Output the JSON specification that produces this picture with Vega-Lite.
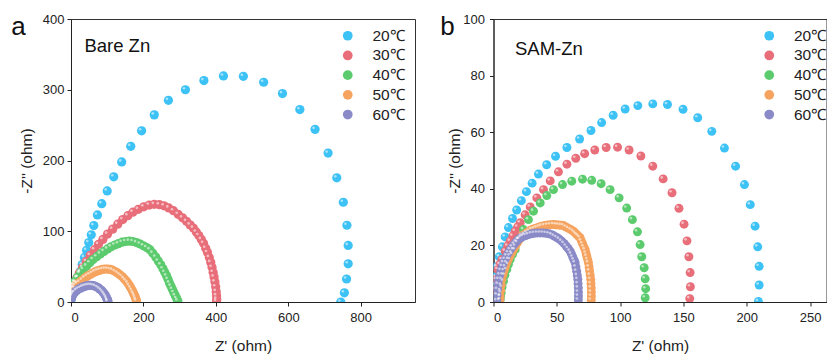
{
"$schema": "https://vega.github.io/schema/vega-lite/v6.json",
"padding": {"left": 10, "top": 12, "right": 0, "bottom": 0},
"config": {
 "font": "Liberation Sans",
 "view": {"stroke": "#333", "strokeWidth": 1},
 "axis": {"grid": false, "domainColor": "#222", "tickColor": "#222", "labelColor": "#222", "titleColor": "#222", "labelFontSize": 13, "titleFontSize": 15.5, "titleFontWeight": "normal", "tickSize": 4, "labelFont": "Liberation Sans", "titleFont": "Liberation Sans"},
 "legend": {"labelFontSize": 15.5, "symbolSize": 95, "symbolType": "circle", "rowPadding": 2.7, "labelOffset": 17, "padding": 0, "labelColor": "#222", "symbolStrokeWidth": 0, "labelFont": "Liberation Sans", "title": null},
 "title": {"fontSize": 26, "font": "Liberation Sans", "fontWeight": "normal", "anchor": "start", "frame": "bounds", "color": "#111", "baseline": "alphabetic", "offset": 0}
},
"data": {"values": [
{"p":"a","t":"20℃","x":1,"y":4},{"p":"a","t":"20℃","x":3,"y":9},{"p":"a","t":"20℃","x":6,"y":13},{"p":"a","t":"20℃","x":10,"y":20},{"p":"a","t":"20℃","x":15,"y":27},{"p":"a","t":"20℃","x":20,"y":35},{"p":"a","t":"20℃","x":26,"y":43},{"p":"a","t":"20℃","x":31,"y":53},{"p":"a","t":"20℃","x":37,"y":63},{"p":"a","t":"20℃","x":43,"y":73},{"p":"a","t":"20℃","x":49,"y":84},{"p":"a","t":"20℃","x":56,"y":95},{"p":"a","t":"20℃","x":63,"y":108},{"p":"a","t":"20℃","x":73,"y":123},{"p":"a","t":"20℃","x":85,"y":139},{"p":"a","t":"20℃","x":100,"y":157},{"p":"a","t":"20℃","x":118,"y":177},{"p":"a","t":"20℃","x":140,"y":198},{"p":"a","t":"20℃","x":165,"y":220},{"p":"a","t":"20℃","x":195,"y":242},{"p":"a","t":"20℃","x":230,"y":264.5},{"p":"a","t":"20℃","x":269,"y":285},{"p":"a","t":"20℃","x":316,"y":300},{"p":"a","t":"20℃","x":367,"y":313},{"p":"a","t":"20℃","x":421,"y":319.5},{"p":"a","t":"20℃","x":476,"y":319},{"p":"a","t":"20℃","x":532,"y":310.6},{"p":"a","t":"20℃","x":584,"y":294.6},{"p":"a","t":"20℃","x":632,"y":272},{"p":"a","t":"20℃","x":674,"y":244},{"p":"a","t":"20℃","x":710,"y":210.5},{"p":"a","t":"20℃","x":734,"y":175.5},{"p":"a","t":"20℃","x":752,"y":141},{"p":"a","t":"20℃","x":762,"y":108.5},{"p":"a","t":"20℃","x":765.5,"y":80},{"p":"a","t":"20℃","x":765.5,"y":54},{"p":"a","t":"20℃","x":761,"y":32.5},{"p":"a","t":"20℃","x":755,"y":13},{"p":"a","t":"20℃","x":745,"y":0},
{"p":"a","t":"30℃","x":1,"y":16},{"p":"a","t":"30℃","x":3,"y":20},{"p":"a","t":"30℃","x":6,"y":24},{"p":"a","t":"30℃","x":10,"y":27.5},{"p":"a","t":"30℃","x":16,"y":34},{"p":"a","t":"30℃","x":23,"y":41},{"p":"a","t":"30℃","x":32,"y":49},{"p":"a","t":"30℃","x":42,"y":57.5},{"p":"a","t":"30℃","x":53,"y":66},{"p":"a","t":"30℃","x":65,"y":74},{"p":"a","t":"30℃","x":76,"y":81.5},{"p":"a","t":"30℃","x":88,"y":88.5},{"p":"a","t":"30℃","x":101,"y":96},{"p":"a","t":"30℃","x":115,"y":103},{"p":"a","t":"30℃","x":129,"y":110},{"p":"a","t":"30℃","x":143,"y":116.5},{"p":"a","t":"30℃","x":157,"y":122},{"p":"a","t":"30℃","x":171,"y":127},{"p":"a","t":"30℃","x":186,"y":131},{"p":"a","t":"30℃","x":201,"y":134.5},{"p":"a","t":"30℃","x":216,"y":137},{"p":"a","t":"30℃","x":230,"y":138},{"p":"a","t":"30℃","x":244,"y":137.5},{"p":"a","t":"30℃","x":257,"y":136},{"p":"a","t":"30℃","x":270,"y":133},{"p":"a","t":"30℃","x":283,"y":129},{"p":"a","t":"30℃","x":296,"y":124},{"p":"a","t":"30℃","x":308,"y":119},{"p":"a","t":"30℃","x":319,"y":114},{"p":"a","t":"30℃","x":329,"y":109},{"p":"a","t":"30℃","x":338,"y":104.5},{"p":"a","t":"30℃","x":346,"y":99},{"p":"a","t":"30℃","x":353,"y":94},{"p":"a","t":"30℃","x":360,"y":88.5},{"p":"a","t":"30℃","x":366,"y":83},{"p":"a","t":"30℃","x":372,"y":76},{"p":"a","t":"30℃","x":377,"y":70},{"p":"a","t":"30℃","x":382,"y":63},{"p":"a","t":"30℃","x":386,"y":56},{"p":"a","t":"30℃","x":389.5,"y":49},{"p":"a","t":"30℃","x":392.5,"y":42},{"p":"a","t":"30℃","x":395,"y":35.5},{"p":"a","t":"30℃","x":397.5,"y":28.5},{"p":"a","t":"30℃","x":399.5,"y":21.5},{"p":"a","t":"30℃","x":401,"y":15},{"p":"a","t":"30℃","x":402,"y":9},{"p":"a","t":"30℃","x":402.5,"y":4},{"p":"a","t":"30℃","x":402,"y":0.8},
{"p":"a","t":"40℃","x":1,"y":14},{"p":"a","t":"40℃","x":3,"y":19},{"p":"a","t":"40℃","x":6,"y":24},{"p":"a","t":"40℃","x":11,"y":29},{"p":"a","t":"40℃","x":18,"y":35},{"p":"a","t":"40℃","x":26,"y":41},{"p":"a","t":"40℃","x":34,"y":46},{"p":"a","t":"40℃","x":43,"y":51},{"p":"a","t":"40℃","x":52,"y":55.5},{"p":"a","t":"40℃","x":61,"y":60},{"p":"a","t":"40℃","x":71,"y":64},{"p":"a","t":"40℃","x":81,"y":68},{"p":"a","t":"40℃","x":91,"y":71.5},{"p":"a","t":"40℃","x":101,"y":75},{"p":"a","t":"40℃","x":111,"y":78},{"p":"a","t":"40℃","x":121,"y":80.5},{"p":"a","t":"40℃","x":131,"y":82.5},{"p":"a","t":"40℃","x":141,"y":84.5},{"p":"a","t":"40℃","x":151,"y":85.5},{"p":"a","t":"40℃","x":161,"y":86},{"p":"a","t":"40℃","x":171,"y":85.5},{"p":"a","t":"40℃","x":181,"y":84},{"p":"a","t":"40℃","x":191,"y":82},{"p":"a","t":"40℃","x":200,"y":79.5},{"p":"a","t":"40℃","x":209,"y":77},{"p":"a","t":"40℃","x":218,"y":74},{"p":"a","t":"40℃","x":226,"y":69},{"p":"a","t":"40℃","x":234,"y":63.5},{"p":"a","t":"40℃","x":241,"y":58},{"p":"a","t":"40℃","x":248,"y":52.5},{"p":"a","t":"40℃","x":254,"y":47},{"p":"a","t":"40℃","x":259,"y":42},{"p":"a","t":"40℃","x":264,"y":37},{"p":"a","t":"40℃","x":268,"y":32},{"p":"a","t":"40℃","x":272,"y":27},{"p":"a","t":"40℃","x":276,"y":22.5},{"p":"a","t":"40℃","x":280,"y":18},{"p":"a","t":"40℃","x":284,"y":13.5},{"p":"a","t":"40℃","x":288,"y":9},{"p":"a","t":"40℃","x":292,"y":5},{"p":"a","t":"40℃","x":295,"y":1.5},
{"p":"a","t":"50℃","x":1,"y":12},{"p":"a","t":"50℃","x":3,"y":16},{"p":"a","t":"50℃","x":6,"y":20},{"p":"a","t":"50℃","x":12,"y":23.5},{"p":"a","t":"50℃","x":18,"y":26},{"p":"a","t":"50℃","x":24,"y":28},{"p":"a","t":"50℃","x":31,"y":31},{"p":"a","t":"50℃","x":38,"y":34},{"p":"a","t":"50℃","x":45,"y":36.5},{"p":"a","t":"50℃","x":52,"y":38.5},{"p":"a","t":"50℃","x":59,"y":40.5},{"p":"a","t":"50℃","x":66,"y":42.5},{"p":"a","t":"50℃","x":73,"y":44},{"p":"a","t":"50℃","x":80,"y":45},{"p":"a","t":"50℃","x":87,"y":46},{"p":"a","t":"50℃","x":94,"y":46.5},{"p":"a","t":"50℃","x":101,"y":46.5},{"p":"a","t":"50℃","x":108,"y":46},{"p":"a","t":"50℃","x":115,"y":45},{"p":"a","t":"50℃","x":122,"y":43},{"p":"a","t":"50℃","x":129,"y":41},{"p":"a","t":"50℃","x":135,"y":38.5},{"p":"a","t":"50℃","x":141,"y":36},{"p":"a","t":"50℃","x":147,"y":33},{"p":"a","t":"50℃","x":152,"y":30},{"p":"a","t":"50℃","x":157,"y":27},{"p":"a","t":"50℃","x":161,"y":23.5},{"p":"a","t":"50℃","x":165,"y":20},{"p":"a","t":"50℃","x":169,"y":16.5},{"p":"a","t":"50℃","x":172,"y":13},{"p":"a","t":"50℃","x":175,"y":10},{"p":"a","t":"50℃","x":177.5,"y":7},{"p":"a","t":"50℃","x":179.5,"y":4},{"p":"a","t":"50℃","x":181,"y":1.5},
{"p":"a","t":"60℃","x":1,"y":5},{"p":"a","t":"60℃","x":3,"y":8},{"p":"a","t":"60℃","x":6,"y":11},{"p":"a","t":"60℃","x":10,"y":13.5},{"p":"a","t":"60℃","x":15,"y":16},{"p":"a","t":"60℃","x":20,"y":18},{"p":"a","t":"60℃","x":26,"y":19.5},{"p":"a","t":"60℃","x":32,"y":21},{"p":"a","t":"60℃","x":38,"y":22},{"p":"a","t":"60℃","x":44,"y":23},{"p":"a","t":"60℃","x":50,"y":23.5},{"p":"a","t":"60℃","x":56,"y":23.5},{"p":"a","t":"60℃","x":62,"y":23},{"p":"a","t":"60℃","x":68,"y":22},{"p":"a","t":"60℃","x":74,"y":20.5},{"p":"a","t":"60℃","x":79,"y":18.5},{"p":"a","t":"60℃","x":84,"y":16.5},{"p":"a","t":"60℃","x":88,"y":14},{"p":"a","t":"60℃","x":92,"y":11.5},{"p":"a","t":"60℃","x":95,"y":9},{"p":"a","t":"60℃","x":98,"y":6.5},{"p":"a","t":"60℃","x":100,"y":4},{"p":"a","t":"60℃","x":101.5,"y":2},{"p":"a","t":"60℃","x":102,"y":0.5},
{"p":"b","t":"20℃","x":0.8,"y":6},{"p":"b","t":"20℃","x":1.3,"y":9},{"p":"b","t":"20℃","x":2.6,"y":12.5},{"p":"b","t":"20℃","x":4.6,"y":16},{"p":"b","t":"20℃","x":7,"y":19.5},{"p":"b","t":"20℃","x":9.2,"y":23},{"p":"b","t":"20℃","x":11.8,"y":26.3},{"p":"b","t":"20℃","x":15,"y":29.5},{"p":"b","t":"20℃","x":18.3,"y":32.5},{"p":"b","t":"20℃","x":22,"y":35.8},{"p":"b","t":"20℃","x":26,"y":39},{"p":"b","t":"20℃","x":30.5,"y":42},{"p":"b","t":"20℃","x":35.5,"y":45.2},{"p":"b","t":"20℃","x":42,"y":48.5},{"p":"b","t":"20℃","x":49,"y":51.5},{"p":"b","t":"20℃","x":58,"y":54.6},{"p":"b","t":"20℃","x":68,"y":57.6},{"p":"b","t":"20℃","x":77,"y":60.6},{"p":"b","t":"20℃","x":85.4,"y":63.4},{"p":"b","t":"20℃","x":94.5,"y":66},{"p":"b","t":"20℃","x":104,"y":68.2},{"p":"b","t":"20℃","x":114,"y":69.4},{"p":"b","t":"20℃","x":125.8,"y":70},{"p":"b","t":"20℃","x":137.4,"y":69.8},{"p":"b","t":"20℃","x":149.7,"y":68.1},{"p":"b","t":"20℃","x":161.3,"y":65.1},{"p":"b","t":"20℃","x":172.4,"y":60.3},{"p":"b","t":"20℃","x":182.4,"y":54.4},{"p":"b","t":"20℃","x":191.2,"y":48},{"p":"b","t":"20℃","x":198.2,"y":41.5},{"p":"b","t":"20℃","x":202.8,"y":34.4},{"p":"b","t":"20℃","x":206.6,"y":26.8},{"p":"b","t":"20℃","x":208.7,"y":19.5},{"p":"b","t":"20℃","x":209.8,"y":12.6},{"p":"b","t":"20℃","x":209.8,"y":6},{"p":"b","t":"20℃","x":209.2,"y":0.2},
{"p":"b","t":"30℃","x":0.8,"y":4.4},{"p":"b","t":"30℃","x":1.8,"y":8},{"p":"b","t":"30℃","x":3.4,"y":11.5},{"p":"b","t":"30℃","x":5,"y":13.3},{"p":"b","t":"30℃","x":6.6,"y":15},{"p":"b","t":"30℃","x":9.2,"y":18},{"p":"b","t":"30℃","x":11.2,"y":19.8},{"p":"b","t":"30℃","x":13.2,"y":21.5},{"p":"b","t":"30℃","x":15.2,"y":23.3},{"p":"b","t":"30℃","x":17.1,"y":25},{"p":"b","t":"30℃","x":19.1,"y":26.5},{"p":"b","t":"30℃","x":21.1,"y":28},{"p":"b","t":"30℃","x":25,"y":30.8},{"p":"b","t":"30℃","x":29,"y":33.6},{"p":"b","t":"30℃","x":34.2,"y":36.8},{"p":"b","t":"30℃","x":39.5,"y":39.7},{"p":"b","t":"30℃","x":44.8,"y":42.8},{"p":"b","t":"30℃","x":51.3,"y":46},{"p":"b","t":"30℃","x":58,"y":48.7},{"p":"b","t":"30℃","x":65,"y":50.8},{"p":"b","t":"30℃","x":72,"y":52.4},{"p":"b","t":"30℃","x":80,"y":53.7},{"p":"b","t":"30℃","x":89,"y":54.6},{"p":"b","t":"30℃","x":98,"y":54.7},{"p":"b","t":"30℃","x":107.1,"y":53.7},{"p":"b","t":"30℃","x":116.4,"y":51.6},{"p":"b","t":"30℃","x":125.8,"y":48},{"p":"b","t":"30℃","x":134,"y":43.5},{"p":"b","t":"30℃","x":141,"y":38.6},{"p":"b","t":"30℃","x":146.5,"y":33.1},{"p":"b","t":"30℃","x":150.5,"y":27.5},{"p":"b","t":"30℃","x":152.8,"y":21.6},{"p":"b","t":"30℃","x":154.3,"y":16},{"p":"b","t":"30℃","x":155.3,"y":10.4},{"p":"b","t":"30℃","x":155.5,"y":5.4},{"p":"b","t":"30℃","x":155,"y":1.2},
{"p":"b","t":"40℃","x":5.3,"y":0.9},{"p":"b","t":"40℃","x":5.6,"y":2.1},{"p":"b","t":"40℃","x":6.1,"y":3.3},{"p":"b","t":"40℃","x":6.8,"y":5.3},{"p":"b","t":"40℃","x":7.9,"y":7.4},{"p":"b","t":"40℃","x":9,"y":9.5},{"p":"b","t":"40℃","x":10.5,"y":11.5},{"p":"b","t":"40℃","x":11.8,"y":13.3},{"p":"b","t":"40℃","x":13.2,"y":15},{"p":"b","t":"40℃","x":15,"y":16.8},{"p":"b","t":"40℃","x":17.1,"y":18.5},{"p":"b","t":"40℃","x":19.7,"y":22.1},{"p":"b","t":"40℃","x":23.7,"y":25.6},{"p":"b","t":"40℃","x":27.6,"y":29.1},{"p":"b","t":"40℃","x":31.6,"y":32.1},{"p":"b","t":"40℃","x":36.9,"y":35},{"p":"b","t":"40℃","x":42.1,"y":37.6},{"p":"b","t":"40℃","x":47.4,"y":39.7},{"p":"b","t":"40℃","x":54.5,"y":41.5},{"p":"b","t":"40℃","x":61.8,"y":42.7},{"p":"b","t":"40℃","x":70.3,"y":43.4},{"p":"b","t":"40℃","x":77.6,"y":43},{"p":"b","t":"40℃","x":85,"y":41.8},{"p":"b","t":"40℃","x":92.1,"y":39.7},{"p":"b","t":"40℃","x":99.2,"y":36.8},{"p":"b","t":"40℃","x":105.2,"y":33.2},{"p":"b","t":"40℃","x":109.7,"y":29.1},{"p":"b","t":"40℃","x":113.7,"y":24.8},{"p":"b","t":"40℃","x":115.8,"y":20.3},{"p":"b","t":"40℃","x":117.1,"y":16},{"p":"b","t":"40℃","x":119,"y":12.1},{"p":"b","t":"40℃","x":119.8,"y":8.2},{"p":"b","t":"40℃","x":120.2,"y":4.7},{"p":"b","t":"40℃","x":119.8,"y":1.5},
{"p":"b","t":"50℃","x":5,"y":0.5},{"p":"b","t":"50℃","x":5.2,"y":2.1},{"p":"b","t":"50℃","x":5.6,"y":4},{"p":"b","t":"50℃","x":6.1,"y":6},{"p":"b","t":"50℃","x":6.6,"y":8},{"p":"b","t":"50℃","x":7.5,"y":9.6},{"p":"b","t":"50℃","x":8.4,"y":11.1},{"p":"b","t":"50℃","x":9.4,"y":12.5},{"p":"b","t":"50℃","x":10.5,"y":13.9},{"p":"b","t":"50℃","x":11.8,"y":15.1},{"p":"b","t":"50℃","x":13.1,"y":16.3},{"p":"b","t":"50℃","x":14.4,"y":17.4},{"p":"b","t":"50℃","x":15.8,"y":18.5},{"p":"b","t":"50℃","x":17.4,"y":19.8},{"p":"b","t":"50℃","x":19,"y":21},{"p":"b","t":"50℃","x":20.6,"y":22.2},{"p":"b","t":"50℃","x":22.3,"y":23.3},{"p":"b","t":"50℃","x":24.3,"y":23.9},{"p":"b","t":"50℃","x":26.3,"y":24.5},{"p":"b","t":"50℃","x":28.2,"y":25.1},{"p":"b","t":"50℃","x":30.2,"y":25.6},{"p":"b","t":"50℃","x":32.2,"y":25.9},{"p":"b","t":"50℃","x":34.2,"y":26.2},{"p":"b","t":"50℃","x":36.2,"y":26.5},{"p":"b","t":"50℃","x":38.1,"y":26.8},{"p":"b","t":"50℃","x":40.4,"y":27},{"p":"b","t":"50℃","x":42.7,"y":27.2},{"p":"b","t":"50℃","x":45,"y":27.3},{"p":"b","t":"50℃","x":47.4,"y":27.4},{"p":"b","t":"50℃","x":49.4,"y":27.3},{"p":"b","t":"50℃","x":51.4,"y":27.2},{"p":"b","t":"50℃","x":53.4,"y":27.1},{"p":"b","t":"50℃","x":55.3,"y":27},{"p":"b","t":"50℃","x":57.3,"y":26.5},{"p":"b","t":"50℃","x":59.3,"y":26},{"p":"b","t":"50℃","x":61.3,"y":25.5},{"p":"b","t":"50℃","x":63.2,"y":25},{"p":"b","t":"50℃","x":64.5,"y":24.4},{"p":"b","t":"50℃","x":65.8,"y":23.8},{"p":"b","t":"50℃","x":67.1,"y":23.3},{"p":"b","t":"50℃","x":68.4,"y":22.7},{"p":"b","t":"50℃","x":69.4,"y":21.6},{"p":"b","t":"50℃","x":70.4,"y":20.6},{"p":"b","t":"50℃","x":71.4,"y":19.5},{"p":"b","t":"50℃","x":72.4,"y":18.5},{"p":"b","t":"50℃","x":73.1,"y":17.3},{"p":"b","t":"50℃","x":73.7,"y":16.2},{"p":"b","t":"50℃","x":74.4,"y":15},{"p":"b","t":"50℃","x":75,"y":13.9},{"p":"b","t":"50℃","x":75.5,"y":12.4},{"p":"b","t":"50℃","x":75.9,"y":11},{"p":"b","t":"50℃","x":76.4,"y":9.5},{"p":"b","t":"50℃","x":76.8,"y":8},{"p":"b","t":"50℃","x":77,"y":6.5},{"p":"b","t":"50℃","x":77.2,"y":5},{"p":"b","t":"50℃","x":77.3,"y":3.5},{"p":"b","t":"50℃","x":77.3,"y":2.1},{"p":"b","t":"50℃","x":77.2,"y":0.7},
{"p":"b","t":"60℃","x":2.6,"y":0.5},{"p":"b","t":"60℃","x":2.8,"y":2.5},{"p":"b","t":"60℃","x":3.2,"y":4.5},{"p":"b","t":"60℃","x":3.6,"y":6.3},{"p":"b","t":"60℃","x":4.2,"y":8},{"p":"b","t":"60℃","x":5,"y":9.6},{"p":"b","t":"60℃","x":5.9,"y":11.2},{"p":"b","t":"60℃","x":6.9,"y":12.6},{"p":"b","t":"60℃","x":7.9,"y":13.9},{"p":"b","t":"60℃","x":9.1,"y":15.1},{"p":"b","t":"60℃","x":10.4,"y":16.3},{"p":"b","t":"60℃","x":11.8,"y":17.4},{"p":"b","t":"60℃","x":13.2,"y":18.5},{"p":"b","t":"60℃","x":14.8,"y":19.5},{"p":"b","t":"60℃","x":16.4,"y":20.5},{"p":"b","t":"60℃","x":18,"y":21.3},{"p":"b","t":"60℃","x":19.7,"y":22.1},{"p":"b","t":"60℃","x":21.6,"y":22.7},{"p":"b","t":"60℃","x":23.6,"y":23.2},{"p":"b","t":"60℃","x":25.6,"y":23.5},{"p":"b","t":"60℃","x":27.6,"y":23.8},{"p":"b","t":"60℃","x":29.9,"y":24.1},{"p":"b","t":"60℃","x":32.2,"y":24.3},{"p":"b","t":"60℃","x":34.6,"y":24.4},{"p":"b","t":"60℃","x":36.9,"y":24.4},{"p":"b","t":"60℃","x":39.2,"y":24.4},{"p":"b","t":"60℃","x":41.5,"y":24.3},{"p":"b","t":"60℃","x":43.8,"y":24.1},{"p":"b","t":"60℃","x":46,"y":23.8},{"p":"b","t":"60℃","x":48,"y":23.3},{"p":"b","t":"60℃","x":50,"y":22.8},{"p":"b","t":"60℃","x":52,"y":22.2},{"p":"b","t":"60℃","x":53.9,"y":21.5},{"p":"b","t":"60℃","x":55.7,"y":20.7},{"p":"b","t":"60℃","x":57.4,"y":19.8},{"p":"b","t":"60℃","x":59,"y":18.9},{"p":"b","t":"60℃","x":60.5,"y":18},{"p":"b","t":"60℃","x":61.6,"y":17},{"p":"b","t":"60℃","x":62.6,"y":15.9},{"p":"b","t":"60℃","x":63.6,"y":14.9},{"p":"b","t":"60℃","x":64.5,"y":13.9},{"p":"b","t":"60℃","x":65.1,"y":12.4},{"p":"b","t":"60℃","x":65.7,"y":10.9},{"p":"b","t":"60℃","x":66.2,"y":9.4},{"p":"b","t":"60℃","x":66.6,"y":8},{"p":"b","t":"60℃","x":66.8,"y":6.5},{"p":"b","t":"60℃","x":67,"y":5},{"p":"b","t":"60℃","x":67.1,"y":3.5},{"p":"b","t":"60℃","x":67.1,"y":2.1},{"p":"b","t":"60℃","x":67,"y":0.7}
]},
"spacing": 23.5,
"hconcat": [
 {
  "width": 344, "height": 283,
  "title": {"text": "a", "dx": -8, "dy": 31},
  "layer": [
   {
    "transform": [{"filter": "datum.p === 'a'"}],
    "mark": {"type": "circle", "size": 85, "opacity": 1, "clip": true},
    "encoding": {
     "x": {"field": "x", "type": "quantitative", "scale": {"domain": [0, 950], "nice": false, "zero": false},
           "axis": {"values": [0,100,200,300,400,500,600,700,800,900], "labelExpr": "datum.value % 200 === 0 ? datum.label : ''", "tickSize": {"condition": {"test": "datum.value % 200 === 0", "value": 4}, "value": 2.5}, "title": "Z' (ohm)", "labelPadding": 5, "titlePadding": 14}},
     "y": {"field": "y", "type": "quantitative", "scale": {"domain": [0, 400], "nice": false, "zero": false},
           "axis": {"values": [0,50,100,150,200,250,300,350,400], "labelExpr": "datum.value % 100 === 0 ? datum.label : ''", "tickSize": {"condition": {"test": "datum.value % 100 === 0", "value": 4}, "value": 2.5}, "title": "-Z'' (ohm)", "labelPadding": 3, "titlePadding": 8}},
     "color": {"field": "t", "type": "nominal",
       "scale": {"domain": ["20℃","30℃","40℃","50℃","60℃"], "range": ["#3DC2F5","#E86E7A","#5BCB6D","#F5A35E","#8A8AC8"]},
       "legend": {"orient": "none", "legendX": 269, "legendY": 9}}
    }
   },
   {
    "transform": [{"filter": "datum.p === 'a'"}],
    "mark": {"type": "circle", "size": 7, "color": "white", "opacity": 0.55, "xOffset": -1.5, "yOffset": -1.5, "clip": true},
    "encoding": {
     "x": {"field": "x", "type": "quantitative"},
     "y": {"field": "y", "type": "quantitative"}
    }
   },
   {
    "data": {"values": [{"x": 37, "y": 362, "label": "Bare Zn"}]},
    "mark": {"type": "text", "align": "left", "baseline": "middle", "fontSize": 18.5, "color": "#111"},
    "encoding": {
     "x": {"field": "x", "type": "quantitative"},
     "y": {"field": "y", "type": "quantitative"},
     "text": {"field": "label"}
    }
   }
  ]
 },
 {
  "width": 333, "height": 283,
  "title": {"text": "b", "dx": -7.5, "dy": 31},
  "layer": [
   {
    "transform": [{"filter": "datum.p === 'b'"}],
    "mark": {"type": "circle", "size": 80, "opacity": 1, "clip": true},
    "encoding": {
     "x": {"field": "x", "type": "quantitative", "scale": {"domain": [0, 263], "nice": false, "zero": false},
           "axis": {"values": [0,25,50,75,100,125,150,175,200,225,250], "labelExpr": "datum.value % 50 === 0 ? datum.label : ''", "tickSize": {"condition": {"test": "datum.value % 50 === 0", "value": 4}, "value": 2.5}, "title": "Z' (ohm)", "labelPadding": 5, "titlePadding": 14}},
     "y": {"field": "y", "type": "quantitative", "scale": {"domain": [0, 100], "nice": false, "zero": false},
           "axis": {"values": [0,10,20,30,40,50,60,70,80,90,100], "labelExpr": "datum.value % 20 === 0 ? datum.label : ''", "tickSize": {"condition": {"test": "datum.value % 20 === 0", "value": 4}, "value": 2.5}, "title": "-Z'' (ohm)", "labelPadding": 5, "titlePadding": 0}},
     "color": {"field": "t", "type": "nominal",
       "scale": {"domain": ["20℃","30℃","40℃","50℃","60℃"], "range": ["#3DC2F5","#E86E7A","#5BCB6D","#F5A35E","#8A8AC8"]},
       "legend": {"orient": "none", "legendX": 268, "legendY": 9}}
    }
   },
   {
    "transform": [{"filter": "datum.p === 'b'"}],
    "mark": {"type": "circle", "size": 7, "color": "white", "opacity": 0.55, "xOffset": -1.5, "yOffset": -1.5, "clip": true},
    "encoding": {
     "x": {"field": "x", "type": "quantitative"},
     "y": {"field": "y", "type": "quantitative"}
    }
   },
   {
    "data": {"values": [{"x": 17, "y": 89.3, "label": "SAM-Zn"}]},
    "mark": {"type": "text", "align": "left", "baseline": "middle", "fontSize": 18.5, "color": "#111"},
    "encoding": {
     "x": {"field": "x", "type": "quantitative"},
     "y": {"field": "y", "type": "quantitative"},
     "text": {"field": "label"}
    }
   }
  ]
 }
],
"resolve": {"scale": {"color": "independent"}}
}
